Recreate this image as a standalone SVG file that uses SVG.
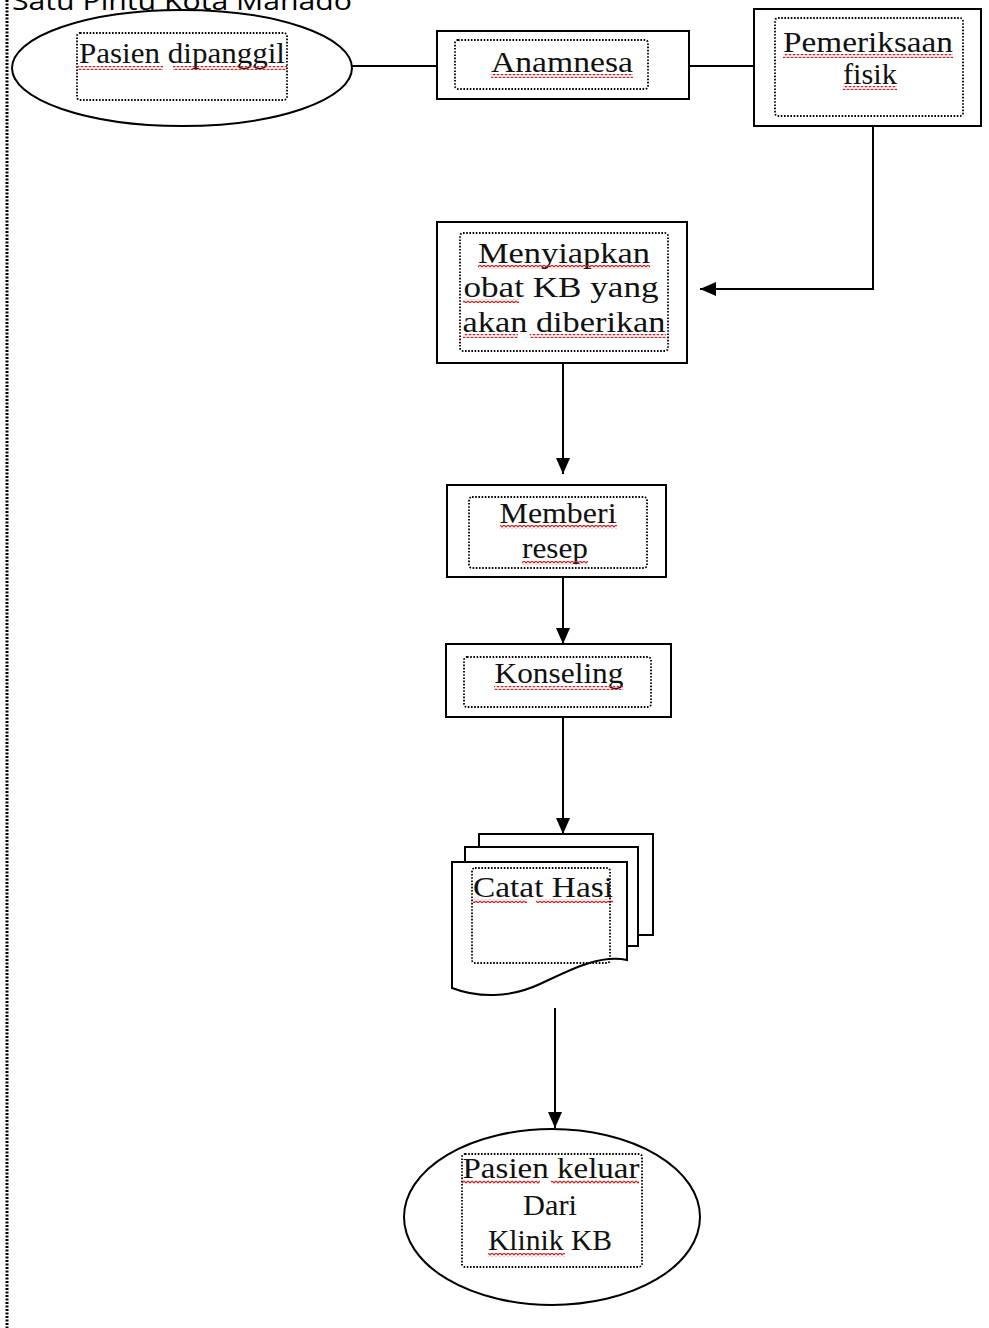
<svg xmlns="http://www.w3.org/2000/svg" width="989" height="1328" viewBox="0 0 989 1328">
<style>
.shape{fill:#fff;stroke:#000;stroke-width:2}
.inner{fill:none;stroke:#000;stroke-width:1.8;stroke-dasharray:1.6 1.6}
.lbl{font-family:"Liberation Serif","Times New Roman",serif;font-size:30px;fill:#111;text-anchor:middle}
.conn{fill:none;stroke:#000;stroke-width:2}
.sq{fill:url(#squig)}
</style>
<defs>
<marker id="arr" markerUnits="userSpaceOnUse" markerWidth="16" markerHeight="16" viewBox="0 0 16 16" refX="16" refY="8" orient="auto">
<path d="M0,1 L16,8 L0,15 Z" fill="#000"/>
</marker>
<pattern id="squig" patternUnits="userSpaceOnUse" width="4" height="4">
<path d="M0,1 L2,3 L4,1" fill="none" stroke="#d02020" stroke-width="1.2"/>
</pattern>
</defs>
<rect width="989" height="1328" fill="#fff"/>
<line x1="7" y1="0" x2="7" y2="1328" stroke="#000" stroke-width="3" stroke-dasharray="2 1.5"/>
<text x="12" y="10" font-family="'Open Sans','Noto Sans',sans-serif" font-size="26" fill="#000" textLength="340" lengthAdjust="spacingAndGlyphs">Satu Pintu Kota Manado</text>

<g id="connectors">
<line class="conn" x1="352" y1="66" x2="437" y2="66"/>
<line class="conn" x1="689" y1="66" x2="754" y2="66"/>
<polyline class="conn" points="873,126 873,289 700,289" marker-end="url(#arr)"/>
<line class="conn" x1="563" y1="363" x2="563" y2="474" marker-end="url(#arr)"/>
<line class="conn" x1="563" y1="577" x2="563" y2="644" marker-end="url(#arr)"/>
<line class="conn" x1="563" y1="717" x2="563" y2="834" marker-end="url(#arr)"/>
<line class="conn" x1="555" y1="1008" x2="555" y2="1128" marker-end="url(#arr)"/>
</g>

<g id="n1">
<ellipse class="shape" cx="182" cy="68" rx="170" ry="58"/>
<rect class="inner" x="77" y="33" width="210" height="67" rx="3"/>
<text class="lbl" x="182" y="63" textLength="206" lengthAdjust="spacingAndGlyphs">Pasien dipanggil</text>
<rect class="sq" x="77" y="66" width="86" height="4"/>
<rect class="sq" x="173" y="66" width="114" height="4"/>
</g>

<g id="n2">
<rect class="shape" x="437" y="31" width="252" height="68"/>
<rect class="inner" x="455" y="40" width="193" height="49" rx="3"/>
<text class="lbl" x="562" y="72" textLength="142" lengthAdjust="spacingAndGlyphs">Anamnesa</text>
<rect class="sq" x="491" y="74" width="142" height="4"/>
</g>

<g id="n3">
<rect class="shape" x="754" y="9" width="227" height="117"/>
<rect class="inner" x="775" y="18" width="188" height="98" rx="3"/>
<text class="lbl" x="868" y="52" textLength="170" lengthAdjust="spacingAndGlyphs">Pemeriksaan</text>
<rect class="sq" x="783" y="54" width="170" height="4"/>
<text class="lbl" x="870" y="84" textLength="54" lengthAdjust="spacingAndGlyphs">fisik</text>
<rect class="sq" x="843" y="86" width="54" height="4"/>
</g>

<g id="n4">
<rect class="shape" x="437" y="222" width="250" height="141"/>
<rect class="inner" x="460" y="233" width="208" height="118" rx="3"/>
<text class="lbl" x="564" y="263" textLength="172" lengthAdjust="spacingAndGlyphs">Menyiapkan</text>
<rect class="sq" x="478" y="265" width="172" height="4"/>
<text class="lbl" x="561" y="297" textLength="195" lengthAdjust="spacingAndGlyphs">obat KB yang</text>
<rect class="sq" x="463" y="299" width="56" height="4"/>
<text class="lbl" x="564" y="332" textLength="203" lengthAdjust="spacingAndGlyphs">akan diberikan</text>
<rect class="sq" x="463" y="334" width="55" height="4"/>
<rect class="sq" x="530" y="334" width="136" height="4"/>
</g>

<g id="n5">
<rect class="shape" x="447" y="485" width="219" height="92"/>
<rect class="inner" x="469" y="497" width="178" height="71" rx="3"/>
<text class="lbl" x="558" y="523" textLength="117" lengthAdjust="spacingAndGlyphs">Memberi</text>
<rect class="sq" x="500" y="525" width="117" height="4"/>
<text class="lbl" x="555" y="558" textLength="66" lengthAdjust="spacingAndGlyphs">resep</text>
<rect class="sq" x="522" y="561" width="66" height="4"/>
</g>

<g id="n6">
<rect class="shape" x="446" y="644" width="225" height="73"/>
<rect class="inner" x="464" y="657" width="187" height="50" rx="3"/>
<text class="lbl" x="559" y="683" textLength="129" lengthAdjust="spacingAndGlyphs">Konseling</text>
<rect class="sq" x="494" y="686" width="129" height="4"/>
</g>

<g id="n7">
<path class="shape" d="M479,847 V834 H653 V935 H638"/>
<path class="shape" d="M465,862 V847 H638 V946 H627"/>
<path class="shape" d="M452,862 H627 V960 C600,954 570,970 540,984 C510,998 478,998 452,988 Z"/>
<rect class="inner" x="472" y="868" width="138" height="95" rx="3"/>
<text class="lbl" x="543" y="897" textLength="140" lengthAdjust="spacingAndGlyphs">Catat Hasi</text>
<rect class="sq" x="473" y="899" width="54" height="4"/>
<rect class="sq" x="536" y="899" width="77" height="4"/>
</g>

<g id="n8">
<ellipse class="shape" cx="552" cy="1217" rx="148" ry="88"/>
<rect class="inner" x="462" y="1154" width="180" height="113" rx="3"/>
<text class="lbl" x="551" y="1178" textLength="177" lengthAdjust="spacingAndGlyphs">Pasien keluar</text>
<rect class="sq" x="462" y="1180" width="78" height="4"/>
<rect class="sq" x="551" y="1180" width="88" height="4"/>
<text class="lbl" x="550" y="1215" textLength="54" lengthAdjust="spacingAndGlyphs">Dari</text>
<text class="lbl" x="550" y="1250" textLength="124" lengthAdjust="spacingAndGlyphs">Klinik KB</text>
<rect class="sq" x="488" y="1253" width="77" height="4"/>
</g>
</svg>
